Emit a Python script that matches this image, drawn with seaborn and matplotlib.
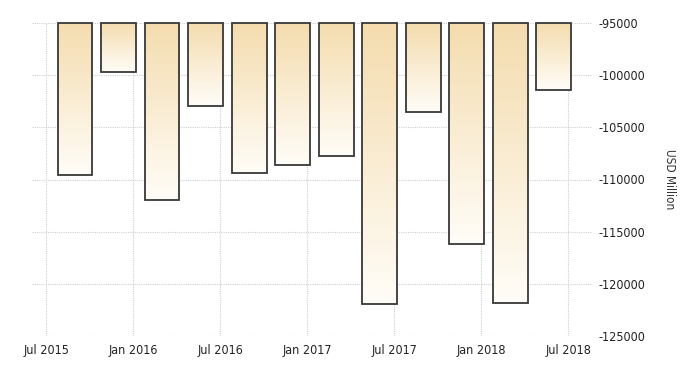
import numpy as np
import pandas as pd
import matplotlib
matplotlib.use("Agg")
import matplotlib.pyplot as plt
from matplotlib.colors import LinearSegmentedColormap
import seaborn as sns

# ---- data ----
quarters = ["2015-09", "2015-12", "2016-03", "2016-06", "2016-09", "2016-12",
            "2017-03", "2017-06", "2017-09", "2017-12", "2018-03", "2018-06"]
values = [-109600, -99700, -112000, -103000, -109350, -108600,
          -107700, -121900, -103500, -116150, -121800, -101400]
tick_dates = ["2015-07", "2016-01", "2016-07", "2017-01", "2017-07", "2018-01", "2018-07"]
tick_labels = ["Jul 2015", "Jan 2016", "Jul 2016", "Jan 2017", "Jul 2017", "Jan 2018", "Jul 2018"]
y_ticks = [-95000, -100000, -105000, -110000, -115000, -120000, -125000]
base = -95000
ylabel = "USD Million"


def month_index(s):
    d = pd.Timestamp(s + "-01")
    return (d.year - 2015) * 12 + d.month - 7


df = pd.DataFrame({
    "month": [month_index(q) for q in quarters],
    "delta": [v - base for v in values],
})

sns.set_style("white")
plt.rcParams["font.family"] = ["DejaVu Sans"]
plt.rcParams["font.stretch"] = "condensed"

fig = plt.figure(figsize=(7, 3.75), dpi=100)
ax = fig.add_axes([32 / 700, 1 - 336 / 375, 560 / 700, 313 / 375])

sns.barplot(data=df, x="month", y="delta", native_scale=True, bottom=base,
            width=0.8, color="#F5DAA8", edgecolor="#383838", linewidth=1.3,
            ax=ax, zorder=3)

xlim = (-0.965, 37.63)
ylim = (-125000, -95000)

cmap = LinearSegmentedColormap.from_list("g", ["#FFFDF8", "#F4DCAE"])
grad = np.linspace(0, 1, 256).reshape(-1, 1)
for p in list(ax.patches):
    bb = p.get_bbox()
    x0, x1 = min(bb.x0, bb.x1), max(bb.x0, bb.x1)
    y0, y1 = min(bb.y0, bb.y1), max(bb.y0, bb.y1)
    im = ax.imshow(grad, extent=[x0, x1, y0, y1], origin="lower",
                   aspect="auto", cmap=cmap, zorder=2.5, interpolation="bilinear")
    im.set_clip_path(p)
    p.set_facecolor("none")
    p.set_clip_on(False)

ax.set_xlim(*xlim)
ax.set_ylim(*ylim)
ax.set_aspect("auto")

ax.set_xticks([month_index(t) for t in tick_dates], tick_labels)
ax.set_yticks(y_ticks, [str(v) for v in y_ticks])
ax.yaxis.tick_right()
ax.yaxis.set_label_position("right")
ax.set_xlabel("")
ax.set_ylabel(ylabel, rotation=270, labelpad=22, fontsize=8.5, color="#333333")
ax.tick_params(axis="both", length=0, labelsize=9, labelcolor="#222222")
ax.tick_params(axis="y", pad=5)
ax.tick_params(axis="x", pad=6)

ax.grid(True, linestyle=(0, (1, 1)), color="#cfcfcf", linewidth=0.8)
ax.set_axisbelow(True)
for s in ax.spines.values():
    s.set_visible(False)

fig.savefig("out.png", dpi=100)
